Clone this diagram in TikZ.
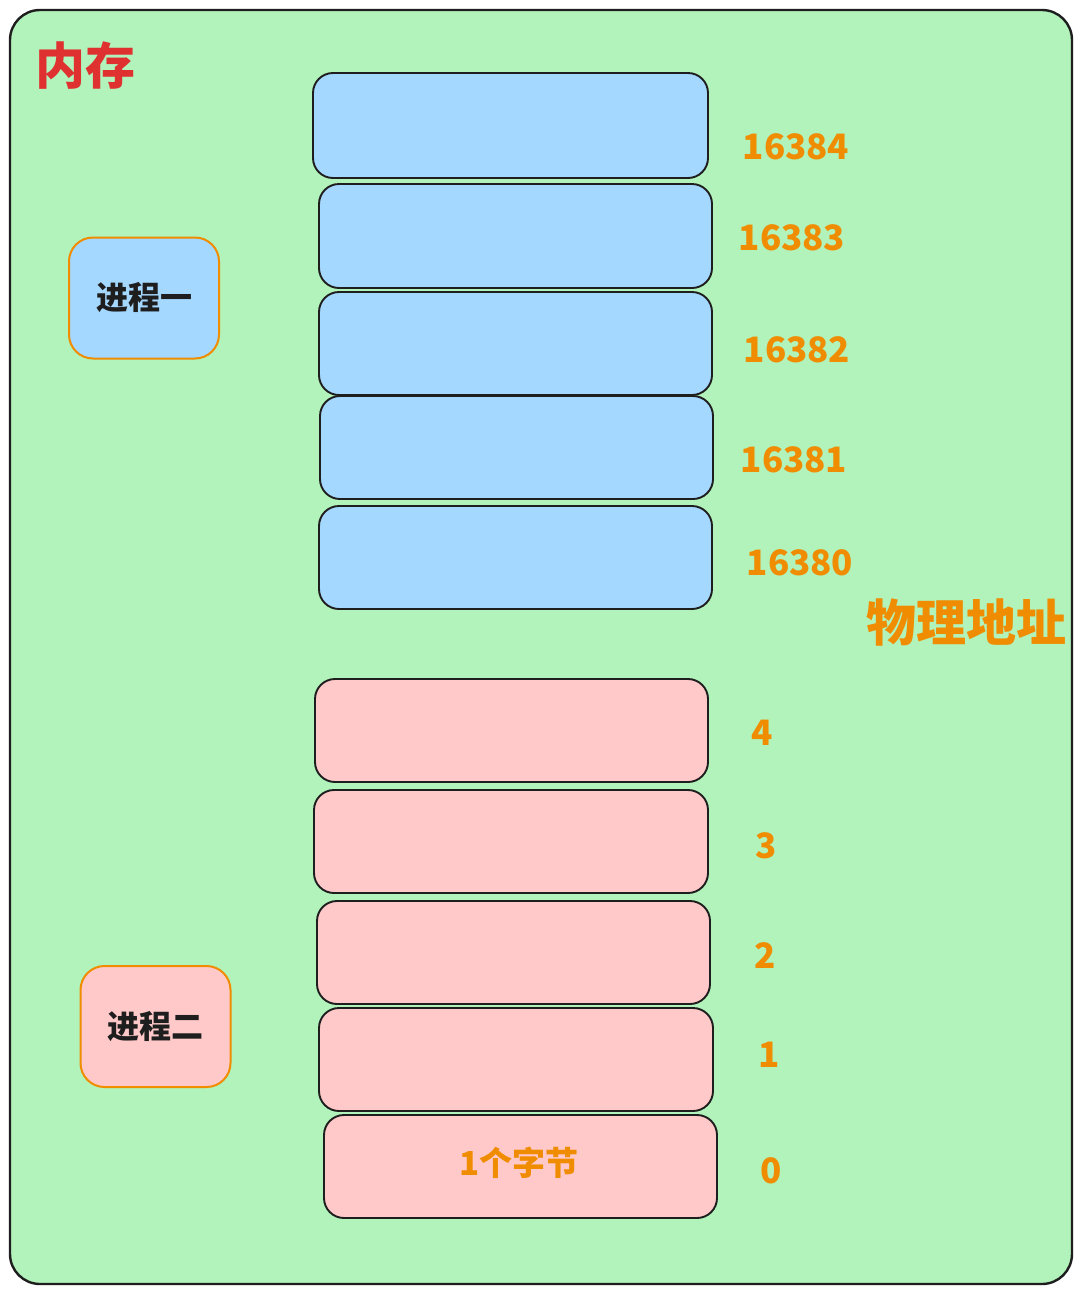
\documentclass[tikz,border=0pt]{standalone}
\usepackage{fontspec}
\setmainfont{Noto Sans CJK SC}
\newfontfamily\cjk{Noto Sans CJK SC}
\definecolor{bggreen}{HTML}{B2F2BB}
\definecolor{cellblue}{HTML}{A5D8FF}
\definecolor{cellpink}{HTML}{FFC9C9}
\definecolor{lblorange}{HTML}{F08C00}
\definecolor{titlered}{HTML}{E03131}
\definecolor{inkblack}{HTML}{1E1E1E}
\tikzset{
  cellbox/.style={draw=inkblack, line width=1.9pt, rounded corners=20pt},
  procbox/.style={draw=lblorange, line width=2pt, rounded corners=24pt, minimum width=150pt, minimum height=121pt, inner sep=0pt, text=inkblack, font=\cjk\bfseries\fontsize{32}{38}\selectfont},
  addr/.style={text=lblorange, font=\cjk\bfseries\fontsize{35}{40}\selectfont, inner sep=0pt},
}
\begin{document}
\begin{tikzpicture}[x=1pt,y=-1pt]
\useasboundingbox (0,0) rectangle (1084,1294);
\draw[fill=bggreen, draw=inkblack, line width=2.4pt, rounded corners=30pt] (10,10) rectangle (1072,1284);
\node[anchor=center, text=titlered, font=\cjk\bfseries\fontsize{50}{60}\selectfont, inner sep=0pt] (title) at (85,66) {内存};
% blue cells
\draw[cellbox, fill=cellblue] (313,73) rectangle (708,178);
\draw[cellbox, fill=cellblue] (319,184) rectangle (712,288);
\draw[cellbox, fill=cellblue] (319,292) rectangle (712,395);
\draw[cellbox, fill=cellblue] (320,396) rectangle (713,499);
\draw[cellbox, fill=cellblue] (319,506) rectangle (712,609);
% pink cells
\draw[cellbox, fill=cellpink] (315,679) rectangle (708,782);
\draw[cellbox, fill=cellpink] (314,790) rectangle (708,893);
\draw[cellbox, fill=cellpink] (317,901) rectangle (710,1004);
\draw[cellbox, fill=cellpink] (319,1008) rectangle (713,1111);
\draw[cellbox, fill=cellpink] (324,1115) rectangle (717,1218);
\node[addr, font=\cjk\bfseries\fontsize{33}{38}\selectfont] (byte) at (519,1163) {1个字节};
% address labels
\node[addr] (a16384) at (796,147) {16384};
\node[addr] (a16383) at (792,238) {16383};
\node[addr] (a16382) at (797,350) {16382};
\node[addr] (a16381) at (794,460) {16381};
\node[addr] (a16380) at (800,563) {16380};
\node[addr] (a4) at (762,733) {4};
\node[addr] (a3) at (766,846) {3};
\node[addr] (a2) at (765,956) {2};
\node[addr] (a1) at (769,1055) {1};
\node[addr] (a0) at (771,1171) {0};
\node[addr, font=\cjk\bfseries\fontsize{50}{60}\selectfont] (phys) at (966,622) {物理地址};
% process boxes
\node[procbox, fill=cellblue] (p1) at (144,298) {进程一};
\node[procbox, fill=cellpink] (p2) at (155.5,1026.5) {进程二};
\end{tikzpicture}
\end{document}
